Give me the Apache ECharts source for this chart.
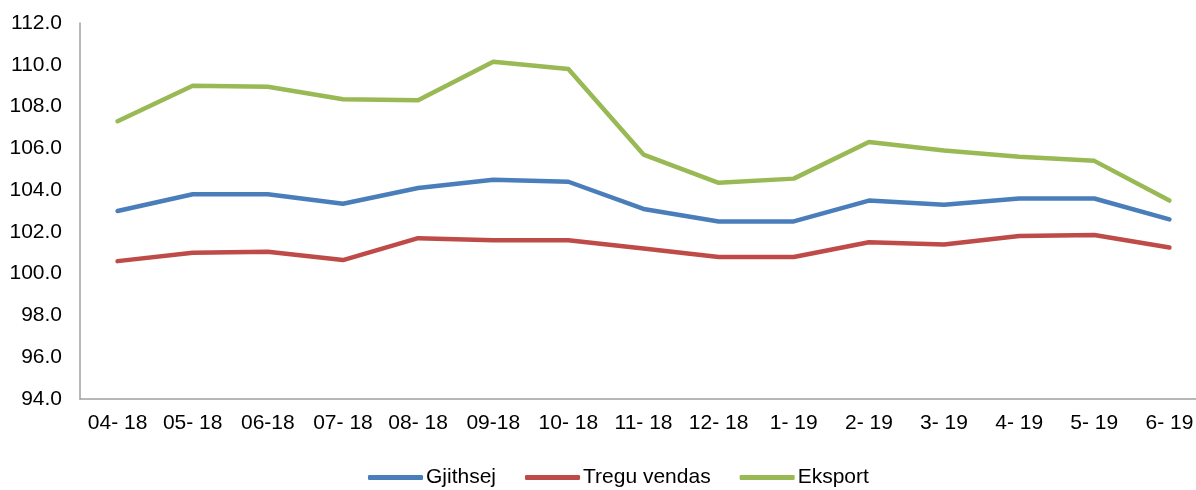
<!DOCTYPE html>
<html>
<head>
<meta charset="utf-8">
<script src="https://cdn.jsdelivr.net/npm/echarts@6/dist/echarts.min.js"></script>
<style>html,body{margin:0;padding:0;background:#fff}#c{width:1196px;height:490px}</style>
</head>
<body>
<div id="c"></div>
<script>
const categories = ["04- 18","05- 18","06-18","07- 18","08- 18","09-18","10- 18","11- 18","12- 18","1- 19","2- 19","3- 19","4- 19","5- 19","6- 19"];
const gjithsej = [103.0,103.8,103.8,103.35,104.1,104.5,104.4,103.1,102.5,102.5,103.5,103.3,103.6,103.6,102.6];
const treguVendas = [100.6,101.0,101.05,100.65,101.7,101.6,101.6,101.2,100.8,100.8,101.5,101.4,101.8,101.85,101.25];
const eksport = [107.3,109.0,108.95,108.35,108.3,110.15,109.8,105.7,104.35,104.55,106.3,105.9,105.6,105.4,103.5];
const yTicks = {min:94, max:112, interval:2};

const font = 'Liberation Sans, Arial, sans-serif';
const chart = echarts.init(document.getElementById('c'));
function mk(name, data, color){
  return {name, type:'line', data, symbol:'none', smooth:false,
    lineStyle:{color, width:4.5, cap:'round', join:'round'}, itemStyle:{color}};
}
chart.setOption({
  animation:false,
  grid:{left:80, top:23, right:-11, height:376, containLabel:false, outerBoundsMode:'none'},
  legend:{left:368, top:467, padding:0, itemWidth:55, itemHeight:5, itemGap:29, icon:'roundRect',
    textStyle:{fontFamily:font, fontSize:21, color:'#000', padding:[0,0,0,-2]},
    data:['Gjithsej','Tregu vendas','Eksport']},
  xAxis:{type:'category', data:categories, boundaryGap:true,
    axisLine:{lineStyle:{color:'#A0A0A0', width:1.5}}, axisTick:{show:false},
    axisLabel:{fontFamily:font, fontSize:21, color:'#000', margin:14, interval:0}},
  yAxis:{type:'value', min:yTicks.min, max:yTicks.max, interval:yTicks.interval,
    axisLine:{show:true, lineStyle:{color:'#A0A0A0', width:1.5}}, axisTick:{show:false},
    splitLine:{show:false},
    axisLabel:{fontFamily:font, fontSize:21, color:'#000', margin:18, formatter:v=>v.toFixed(1)}},
  series:[mk('Gjithsej', gjithsej, '#4A7EBB'), mk('Tregu vendas', treguVendas, '#BE4B48'), mk('Eksport', eksport, '#98B954')]
});
</script>
</body>
</html>
